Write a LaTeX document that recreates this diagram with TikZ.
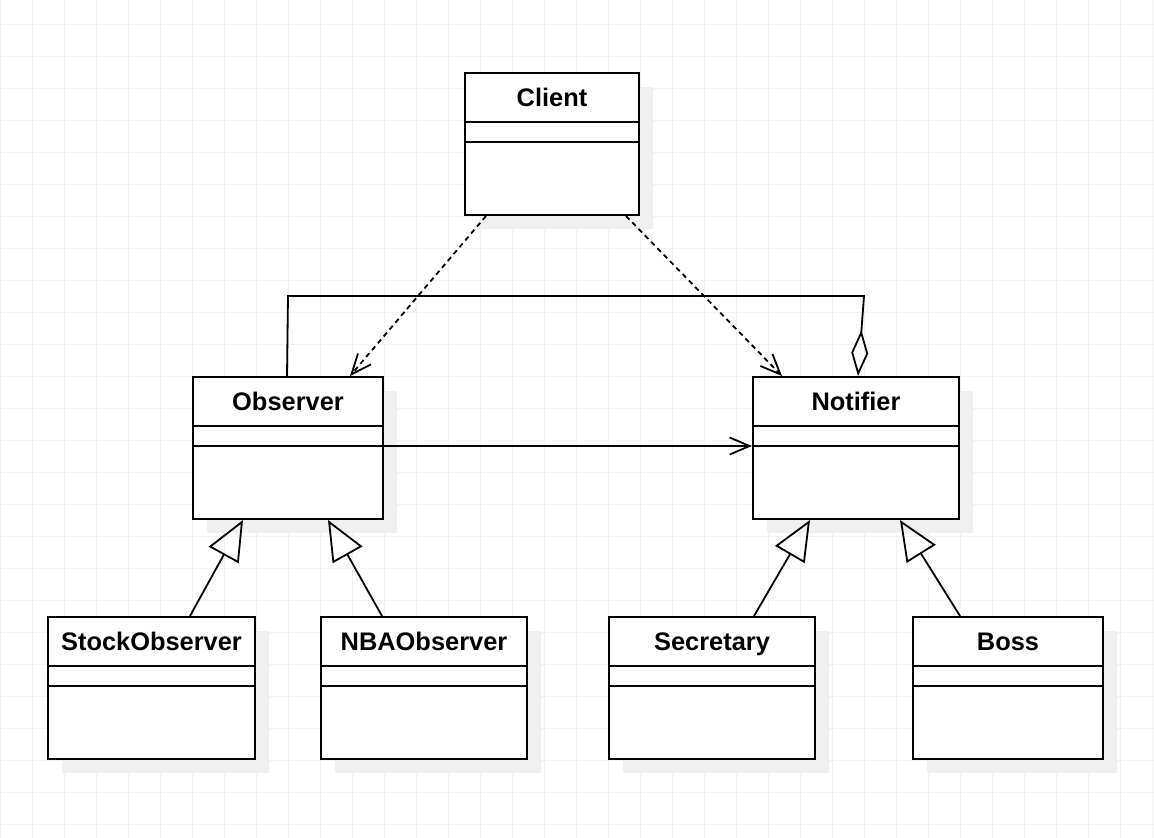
\documentclass[tikz,border=0pt]{standalone}
\usepackage{fontspec}
\setmainfont{Liberation Sans}
\usetikzlibrary{arrows.meta,shadows}

\begin{document}
\begin{tikzpicture}[x=1pt,y=-1pt,
  gridline/.style={draw=black!5, line width=1pt},
  classbox/.style={draw, line width=2pt, fill=white, anchor=north west, inner sep=0pt,
    minimum height=142pt,
    drop shadow={shadow xshift=14pt, shadow yshift=-14pt, fill=black!6, opacity=1}},
  classname/.style={font=\fontsize{25.4}{30}\selectfont\bfseries, inner sep=0pt,
    text height=18.2pt, text depth=0pt},
  sepline/.style={line width=2pt},
  link/.style={line width=1.8pt},
  depends/.style={link, dash pattern=on 5pt off 4pt, -{Straight Barb[length=20pt,width=17pt]}},
  assoc/.style={link, -{Straight Barb[length=20pt,width=17pt]}},
  inherits/.style={link, -{Triangle[open,length=40pt,width=34pt]}},
  aggregates/.style={link, -{Diamond[open,length=46pt,width=17pt]}}]
\useasboundingbox (0,0) rectangle (1154,838);

%Background grid
\fill[white] (0,0) rectangle (1154,838);
\foreach \gx in {0,32,...,1152} \draw[gridline] (\gx,0) -- (\gx,838);
\foreach \gy in {24,56,...,824} \draw[gridline] (0,\gy) -- (1154,\gy);

%Class: Client
\node[classbox, minimum width=174pt] (client) at (464,72) {};
\draw[sepline] ([yshift=-50pt]client.north west) -- ([yshift=-50pt]client.north east);
\draw[sepline] ([yshift=-70pt]client.north west) -- ([yshift=-70pt]client.north east);
\node[classname] (clientname) at ([yshift=-25pt]client.north) {Client};

%Class: Observer
\node[classbox, minimum width=190pt] (observer) at (192,376) {};
\draw[sepline] ([yshift=-50pt]observer.north west) -- ([yshift=-50pt]observer.north east);
\draw[sepline] ([yshift=-70pt]observer.north west) -- ([yshift=-70pt]observer.north east);
\node[classname] (observername) at ([yshift=-25pt]observer.north) {Observer};

%Class: Notifier
\node[classbox, minimum width=206pt] (notifier) at (752,376) {};
\draw[sepline] ([yshift=-50pt]notifier.north west) -- ([yshift=-50pt]notifier.north east);
\draw[sepline] ([yshift=-70pt]notifier.north west) -- ([yshift=-70pt]notifier.north east);
\node[classname] (notifiername) at ([yshift=-25pt]notifier.north) {Notifier};

%Class: StockObserver
\node[classbox, minimum width=207pt] (stock) at (47,616) {};
\draw[sepline] ([yshift=-50pt]stock.north west) -- ([yshift=-50pt]stock.north east);
\draw[sepline] ([yshift=-70pt]stock.north west) -- ([yshift=-70pt]stock.north east);
\node[classname] (stockname) at ([yshift=-25pt]stock.north) {StockObserver};

%Class: NBAObserver
\node[classbox, minimum width=206pt] (nba) at (320,616) {};
\draw[sepline] ([yshift=-50pt]nba.north west) -- ([yshift=-50pt]nba.north east);
\draw[sepline] ([yshift=-70pt]nba.north west) -- ([yshift=-70pt]nba.north east);
\node[classname] (nbaname) at ([yshift=-25pt]nba.north) {NBAObserver};

%Class: Secretary
\node[classbox, minimum width=206pt] (secretary) at (608,616) {};
\draw[sepline] ([yshift=-50pt]secretary.north west) -- ([yshift=-50pt]secretary.north east);
\draw[sepline] ([yshift=-70pt]secretary.north west) -- ([yshift=-70pt]secretary.north east);
\node[classname] (secretaryname) at ([yshift=-25pt]secretary.north) {Secretary};

%Class: Boss
\node[classbox, minimum width=190pt] (boss) at (912,616) {};
\draw[sepline] ([yshift=-50pt]boss.north west) -- ([yshift=-50pt]boss.north east);
\draw[sepline] ([yshift=-70pt]boss.north west) -- ([yshift=-70pt]boss.north east);
\node[classname] (bossname) at ([yshift=-25pt]boss.north) {Boss};

%Dependencies from Client
\draw[depends] ([xshift=22pt]client.south west) -- ([xshift=-34pt]observer.north east);
\draw[depends] ([xshift=-14pt]client.south east) -- ([xshift=30pt]notifier.north west);

%Association Observer -> Notifier
\draw[assoc] ([yshift=-70pt]observer.north east) -- ([yshift=-70pt]notifier.north west);

%Aggregation Notifier <>- Observer
\coordinate (aggleft) at (288,296);
\coordinate (aggright) at (864,296);
\draw[aggregates] ([xshift=-1pt]observer.north) -- (aggleft) -- (aggright) -- ([xshift=2pt]notifier.north);

%Generalisations
\draw[inherits] ([xshift=143pt]stock.north west) -- ([xshift=51pt]observer.south west);
\draw[inherits] ([xshift=62pt]nba.north west) -- ([xshift=136pt]observer.south west);
\draw[inherits] ([xshift=146pt]secretary.north west) -- ([xshift=58pt]notifier.south west);
\draw[inherits] ([xshift=48pt]boss.north west) -- ([xshift=148pt]notifier.south west);

\end{tikzpicture}
\end{document}
